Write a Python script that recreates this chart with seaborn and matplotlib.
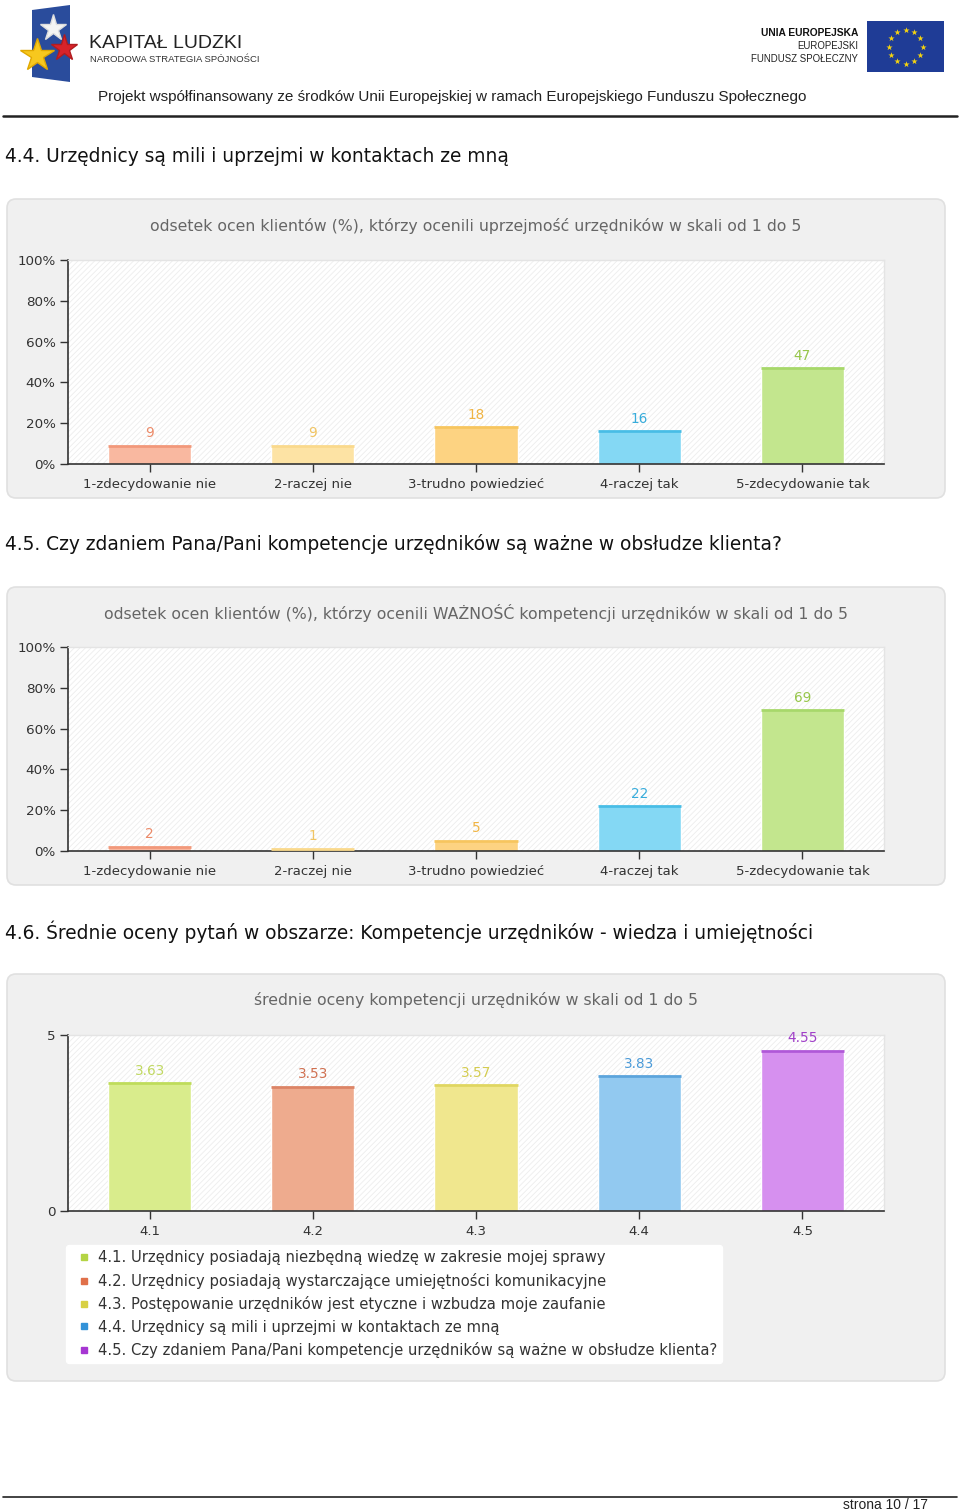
import numpy as np
import pandas as pd
import matplotlib
matplotlib.use("Agg")
import matplotlib.pyplot as plt
import seaborn as sns
from matplotlib.patches import FancyBboxPatch, Rectangle, Polygon
from matplotlib.lines import Line2D

# --- data ---
scale_labels = ["1-zdecydowanie nie", "2-raczej nie", "3-trudno powiedzieć",
                "4-raczej tak", "5-zdecydowanie tak"]
politeness_pct = [9, 9, 18, 16, 47]
importance_pct = [2, 1, 5, 22, 69]

question_codes = ["4.1", "4.2", "4.3", "4.4", "4.5"]
mean_scores = [3.63, 3.53, 3.57, 3.83, 4.55]
question_texts = [
    "4.1. Urzędnicy posiadają niezbędną wiedzę w zakresie mojej sprawy",
    "4.2. Urzędnicy posiadają wystarczające umiejętności komunikacyjne",
    "4.3. Postępowanie urzędników jest etyczne i wzbudza moje zaufanie",
    "4.4. Urzędnicy są mili i uprzejmi w kontaktach ze mną",
    "4.5. Czy zdaniem Pana/Pani kompetencje urzędników są ważne w obsłudze klienta?",
]

pct_ticks = [0, 20, 40, 60, 80, 100]
pct_tick_labels = ["0%", "20%", "40%", "60%", "80%", "100%"]
score_ticks = [0, 5]
score_tick_labels = ["0", "5"]

# colours
scale_fill = ["#f9b8a0", "#fde3a4", "#fdd382", "#84d8f4", "#c3e68e"]
scale_top = ["#f2987a", "#fad98c", "#f7c55e", "#48bde6", "#a7d86a"]
scale_text = ["#ec8a68", "#f0c462", "#f0b443", "#37acdb", "#97c64a"]

score_fill = ["#d9ec8c", "#eeab8e", "#f0e78e", "#92c9f0", "#d690ef"]
score_top = ["#bfdc5a", "#dc8466", "#e0d660", "#5ba4dc", "#b058d8"]
score_text = ["#c0d860", "#d07050", "#d4cc50", "#4a9ad8", "#a040c8"]
legend_marks = ["#b4d444", "#e0704a", "#d8d044", "#3292d8", "#a636d2"]

W, H = 960, 1512
CHART_FONT = "DejaVu Sans"

sns.set_style("white")
plt.rcParams["font.family"] = ["DejaVu Sans"]
plt.rcParams["hatch.linewidth"] = 0.6

fig = plt.figure(figsize=(W / 100, H / 100), dpi=100)
bg = fig.add_axes([0, 0, 1, 1], zorder=0)
bg.set_xlim(0, W)
bg.set_ylim(H, 0)
bg.axis("off")

# --- page header ---
bg.add_patch(Polygon([(32, 10), (70, 5), (70, 82), (32, 77)], closed=True,
                     fc="#2a4c9c", ec="none"))
bg.plot(53, 28, marker="*", ms=20, color="#f4f4f4", mec="#dddddd")
bg.plot(64, 48, marker="*", ms=20, color="#d8232a", mec="#b01c20")
bg.plot(37, 55, marker="*", ms=25, color="#f7c81e", mec="#e0a800")
bg.text(89, 43, "KAPITAŁ LUDZKI", fontsize=14, color="#222", weight="medium",
        family="Liberation Sans", va="center", ha="left")
bg.text(90, 60, "NARODOWA STRATEGIA SPÓJNOŚCI", fontsize=6.8, color="#333",
        family="Liberation Sans", va="center", ha="left")

bg.text(858, 33, "UNIA EUROPEJSKA", fontsize=7.4, color="#111", weight="bold",
        family="Liberation Sans", va="center", ha="right")
bg.text(858, 46, "EUROPEJSKI", fontsize=6.9, color="#222",
        family="Liberation Sans", va="center", ha="right")
bg.text(858, 59, "FUNDUSZ SPOŁECZNY", fontsize=6.9, color="#222",
        family="Liberation Sans", va="center", ha="right")
bg.add_patch(Rectangle((867, 21), 77, 51, fc="#1f3c96", ec="none"))
ang = np.linspace(0, 2 * np.pi, 12, endpoint=False)
bg.scatter(905.5 + 17 * np.cos(ang), 46.5 + 17 * np.sin(ang), marker="*",
           s=22, color="#f6d40f", linewidths=0, zorder=3)

bg.text(98, 97, "Projekt współfinansowany ze środków Unii Europejskiej w ramach "
        "Europejskiego Funduszu Społecznego", fontsize=11, color="#222",
        family="Liberation Sans", va="center", ha="left")
bg.plot([3, 957], [116, 116], color="#222", lw=1.8)

# --- footer ---
bg.plot([3, 957], [1497, 1497], color="#222", lw=1.2)
bg.text(928, 1505, "strona 10 / 17", fontsize=10, color="#222",
        family="Liberation Sans", va="center", ha="right")

# --- section headings ---
headings = [
    (157, "4.4. Urzędnicy są mili i uprzejmi w kontaktach ze mną"),
    (544, "4.5. Czy zdaniem Pana/Pani kompetencje urzędników są ważne w obsłudze klienta?"),
    (932, "4.6. Średnie oceny pytań w obszarze: Kompetencje urzędników - wiedza i umiejętności"),
]
for y, txt in headings:
    bg.text(5, y, txt, fontsize=13.4, color="#111", va="center", ha="left")


def panel(y0, y1):
    bg.add_patch(FancyBboxPatch((7, y0), 938, y1 - y0,
                                boxstyle="round,pad=0,rounding_size=9",
                                fc="#f0f0f0", ec="#e0e0e0", lw=1.2))


def chart_axes(x0, y0, x1, y1):
    return fig.add_axes([x0 / W, 1 - y1 / H, (x1 - x0) / W, (y1 - y0) / H], zorder=2)


def bar_chart(ax, cats, vals, fills, tops, txts, yticks, yticklabels, ymax, fmt):
    df = pd.DataFrame({"cat": cats, "val": vals})
    ax.add_patch(Rectangle((0, 0), 1, 1, transform=ax.transAxes, fc="white",
                           ec="#ededed", hatch="//////", lw=0, zorder=0))
    sns.barplot(data=df, x="cat", y="val", hue="cat", palette=fills,
                width=0.51, saturation=1, legend=False, ax=ax, zorder=2)
    for bar, v, tc, lc in zip(ax.patches[1:], vals, tops, txts):
        x0, w = bar.get_x(), bar.get_width()
        ax.plot([x0, x0 + w], [v, v], color=tc, lw=2, zorder=3,
                solid_capstyle="butt")
        ax.annotate(fmt.format(v), (x0 + w / 2, v), xytext=(0, 4),
                    textcoords="offset points", ha="center", va="bottom",
                    color=lc, fontsize=9.8, family=CHART_FONT)
    ax.set_xlim(-0.5, len(cats) - 0.5)
    ax.set_ylim(0, ymax)
    ax.set_yticks(yticks)
    ax.set_yticklabels(yticklabels)
    ax.set_xlabel("")
    ax.set_ylabel("")
    ax.set_facecolor("white")
    for side in ["left", "bottom"]:
        ax.spines[side].set_color("#333")
        ax.spines[side].set_linewidth(1.2)
    for side in ["top", "right"]:
        ax.spines[side].set_color("#e4e4e4")
        ax.spines[side].set_linewidth(1)
    ax.tick_params(axis="y", length=6, width=1, color="#333", labelsize=9.7,
                   labelcolor="#333", pad=3, left=True)
    ax.tick_params(axis="x", length=6, width=1, color="#333", labelsize=9.5,
                   labelcolor="#333", pad=4, bottom=True)
    for lab in ax.get_xticklabels() + ax.get_yticklabels():
        lab.set_family(CHART_FONT)


# --- chart 1 ---
panel(199, 498)
bg.text(476, 226, "odsetek ocen klientów (%), którzy ocenili uprzejmość urzędników w skali od 1 do 5",
        fontsize=11.3, color="#666", ha="center", va="center", family=CHART_FONT)
ax1 = chart_axes(68, 260, 884, 464)
bar_chart(ax1, scale_labels, politeness_pct, scale_fill, scale_top, scale_text,
          pct_ticks, pct_tick_labels, 100, "{:d}")

# --- chart 2 ---
panel(587, 885)
bg.text(476, 613, "odsetek ocen klientów (%), którzy ocenili WAŻNOŚĆ kompetencji urzędników w skali od 1 do 5",
        fontsize=11.3, color="#666", ha="center", va="center", family=CHART_FONT)
ax2 = chart_axes(68, 647, 884, 851)
bar_chart(ax2, scale_labels, importance_pct, scale_fill, scale_top, scale_text,
          pct_ticks, pct_tick_labels, 100, "{:d}")

# --- chart 3 ---
panel(974, 1381)
bg.text(476, 1000, "średnie oceny kompetencji urzędników w skali od 1 do 5",
        fontsize=11.3, color="#666", ha="center", va="center", family=CHART_FONT)
ax3 = chart_axes(68, 1035, 884, 1211)
bar_chart(ax3, question_codes, mean_scores, score_fill, score_top, score_text,
          score_ticks, score_tick_labels, 5, "{:.2f}")

handles = [Line2D([], [], marker="s", ls="", color=c, ms=5) for c in legend_marks]
leg = ax3.legend(handles, question_texts, loc="upper left",
                 bbox_to_anchor=(-0.002, -0.195), frameon=True, fancybox=True,
                 facecolor="white", edgecolor="white", framealpha=1,
                 prop={"family": CHART_FONT, "size": 10.6}, labelspacing=0.5,
                 handletextpad=0.1, borderpad=0.35, handlelength=1.7,
                 borderaxespad=0)
for t in leg.get_texts():
    t.set_color("#333")

fig.savefig("out.png", dpi=100)
